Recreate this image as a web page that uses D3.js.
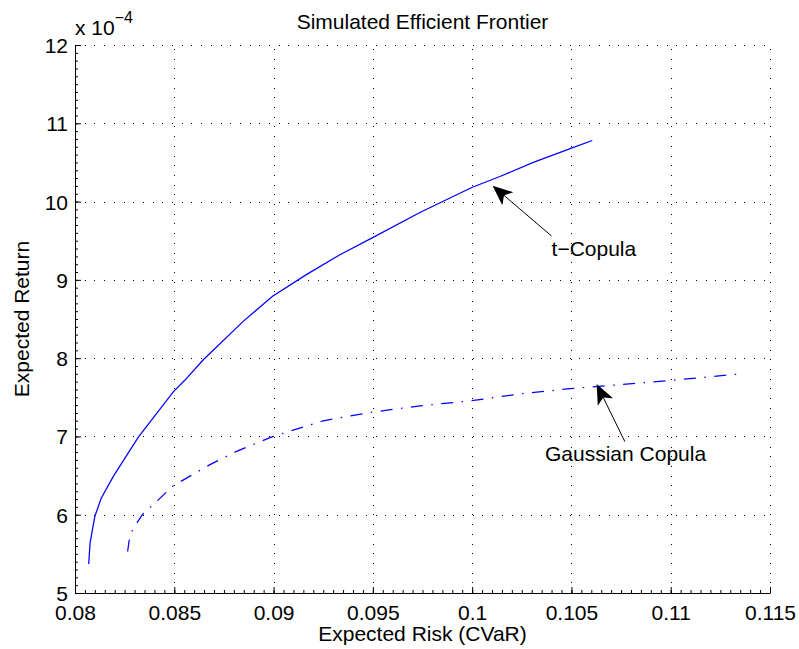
<!DOCTYPE html>
<html lang="en">
<head>
<meta charset="UTF-8" />
<title>Simulated Efficient Frontier</title>
<style>
  * { margin: 0; padding: 0; }
  body { background: #fff; }
  svg text { font-family: "Liberation Sans", Arial, Helvetica, sans-serif; fill: #000; }
</style>
</head>
<body>
<svg id="chart" width="799" height="649"></svg>
<script src="https://d3js.org/d3.v7.min.js"></script>
<script>
// risk (CVaR) and return (in units of 1e-4)
const tCopulaRisk = [0.08069, 0.08076, 0.0810, 0.08132, 0.08193, 0.08319, 0.08495, 0.08554,
  0.08646, 0.08696, 0.08847, 0.08995, 0.09167, 0.09334, 0.09499, 0.09737, 0.09998, 0.1014, 0.10308, 0.10497, 0.10605];
const tCopulaReturn = [5.37, 5.64, 5.98, 6.21, 6.49, 6.99, 7.57, 7.72,
  7.98, 8.10, 8.47, 8.79, 9.07, 9.32, 9.54, 9.86, 10.18, 10.32, 10.50, 10.68, 10.78];
const gaussRisk = [0.08265, 0.08272, 0.0829, 0.08339, 0.08495, 0.0868, 0.08814, 0.08998, 0.0925,
  0.09497, 0.09737, 0.09998, 0.10232, 0.10492, 0.1100, 0.11357];
const gaussReturn = [5.53, 5.66, 5.81, 6.0, 6.37, 6.64, 6.81, 7.0, 7.2,
  7.31, 7.39, 7.457, 7.54, 7.61, 7.715, 7.80];

const xTicks = [0.08, 0.085, 0.09, 0.095, 0.1, 0.105, 0.11, 0.115];
const xTickLabels = ["0.08", "0.085", "0.09", "0.095", "0.1", "0.105", "0.11", "0.115"];
const yTicks = [5, 6, 7, 8, 9, 10, 11, 12];

// annotations: arrow tip, arrow tail and label position, in data units
const notes = [
  { label: "t\u2212Copula", tip: [0.10103, 10.203], tail: [0.1040, 9.56], text: [0.1040, 9.305] },
  { label: "Gaussian Copula", tip: [0.10627, 7.67], tail: [0.10769, 6.934], text: [0.10367, 6.68] }
];

const pLeft = 75, pRight = 770, pTop = 45, pBottom = 593;
const svg = d3.select("#chart");
const x = d3.scaleLinear().domain([0.08, 0.115]).range([pLeft, pRight]);
const y = d3.scaleLinear().domain([5, 12]).range([pBottom, pTop]);
const fs = 21;

// grid
const grid = svg.append("g").attr("stroke", "#000").attr("stroke-width", 1)
  .attr("stroke-dasharray", "1,8.7").attr("shape-rendering", "crispEdges");
grid.selectAll(".gx").data(xTicks.slice(1)).join("line")
  .attr("x1", d => Math.round(x(d)) + 0.5).attr("x2", d => Math.round(x(d)) + 0.5)
  .attr("y1", pBottom).attr("y2", pTop);
grid.selectAll(".gy").data(yTicks.slice(1)).join("line")
  .attr("y1", d => Math.round(y(d)) + 0.5).attr("y2", d => Math.round(y(d)) + 0.5)
  .attr("x1", pLeft).attr("x2", pRight);

// minor ticks
const xMinor = d3.range(0, 71).map(i => 0.08 + i * 0.0005);
const yMinor = d3.range(0, 71).map(i => 5 + i * 0.1);
svg.append("g").attr("transform", `translate(0,${pBottom})`)
  .call(d3.axisBottom(x).tickValues(xMinor).tickSize(-3).tickFormat(""))
  .call(g => g.select(".domain").remove());
svg.append("g").attr("transform", `translate(${pLeft},0)`)
  .call(d3.axisLeft(y).tickValues(yMinor).tickSize(-3).tickFormat(""))
  .call(g => g.select(".domain").remove());

// major axes
const xAxis = svg.append("g").attr("transform", `translate(0,${pBottom})`)
  .call(d3.axisBottom(x).tickValues(xTicks).tickSize(-6).tickSizeOuter(0).tickPadding(12)
    .tickFormat((d, i) => xTickLabels[i]));
const yAxis = svg.append("g").attr("transform", `translate(${pLeft},0)`)
  .call(d3.axisLeft(y).tickValues(yTicks).tickSize(-6).tickSizeOuter(0).tickPadding(7)
    .tickFormat(d3.format("d")));
[xAxis, yAxis].forEach(g => {
  g.attr("font-family", null).attr("font-size", null);
  g.selectAll("text").attr("font-size", fs);
  g.selectAll("line, path").attr("stroke", "#000");
});
yAxis.selectAll("text").attr("dy", "0.36em");

// curves
const line = d3.line().x(d => x(d[0])).y(d => y(d[1]));
svg.append("path").datum(tCopulaRisk.map((r, i) => [r, tCopulaReturn[i]]))
  .attr("d", line).attr("fill", "none").attr("stroke", "#0000ff").attr("stroke-width", 1.25);
svg.append("path").datum(gaussRisk.map((r, i) => [r, gaussReturn[i]]))
  .attr("d", line).attr("fill", "none").attr("stroke", "#0000ff").attr("stroke-width", 1.25)
  .attr("stroke-dasharray", "12,8.5,1.5,8.5");

// arrows
notes.forEach(n => {
  const tx = x(n.tip[0]), ty = y(n.tip[1]);
  const sx = x(n.tail[0]), sy = y(n.tail[1]);
  const ang = Math.atan2(ty - sy, tx - sx);
  const ca = Math.cos(ang), sa = Math.sin(ang);
  const len = 20, w = 8.5, back = 15;
  svg.append("line").attr("x1", sx).attr("y1", sy)
    .attr("x2", tx - ca * back).attr("y2", ty - sa * back)
    .attr("stroke", "#000").attr("stroke-width", 1);
  const pts = [
    [tx, ty],
    [tx - ca * len - sa * w, ty - sa * len + ca * w],
    [tx - ca * back, ty - sa * back],
    [tx - ca * len + sa * w, ty - sa * len - ca * w]
  ];
  svg.append("path").attr("d", "M" + pts.map(p => p.join(",")).join("L") + "Z").attr("fill", "#000");
  svg.append("text").attr("x", x(n.text[0])).attr("y", y(n.text[1]))
    .attr("font-size", fs).text(n.label);
});

// title and labels
svg.append("text").attr("x", (pLeft + pRight) / 2).attr("y", 29).attr("text-anchor", "middle")
  .attr("font-size", fs).text("Simulated Efficient Frontier");
svg.append("text").attr("x", (pLeft + pRight) / 2).attr("y", 641).attr("text-anchor", "middle")
  .attr("font-size", fs).text("Expected Risk (CVaR)");
svg.append("text").attr("transform", `translate(29,${(pTop + pBottom) / 2}) rotate(-90)`)
  .attr("text-anchor", "middle").attr("font-size", fs).text("Expected Return");

// exponent
const expo = svg.append("text").attr("x", pLeft).attr("y", 35).attr("font-size", fs);
expo.append("tspan").text("x 10");
expo.append("tspan").attr("dy", -12).attr("font-size", 16).text("\u22124");
</script>
</body>
</html>
